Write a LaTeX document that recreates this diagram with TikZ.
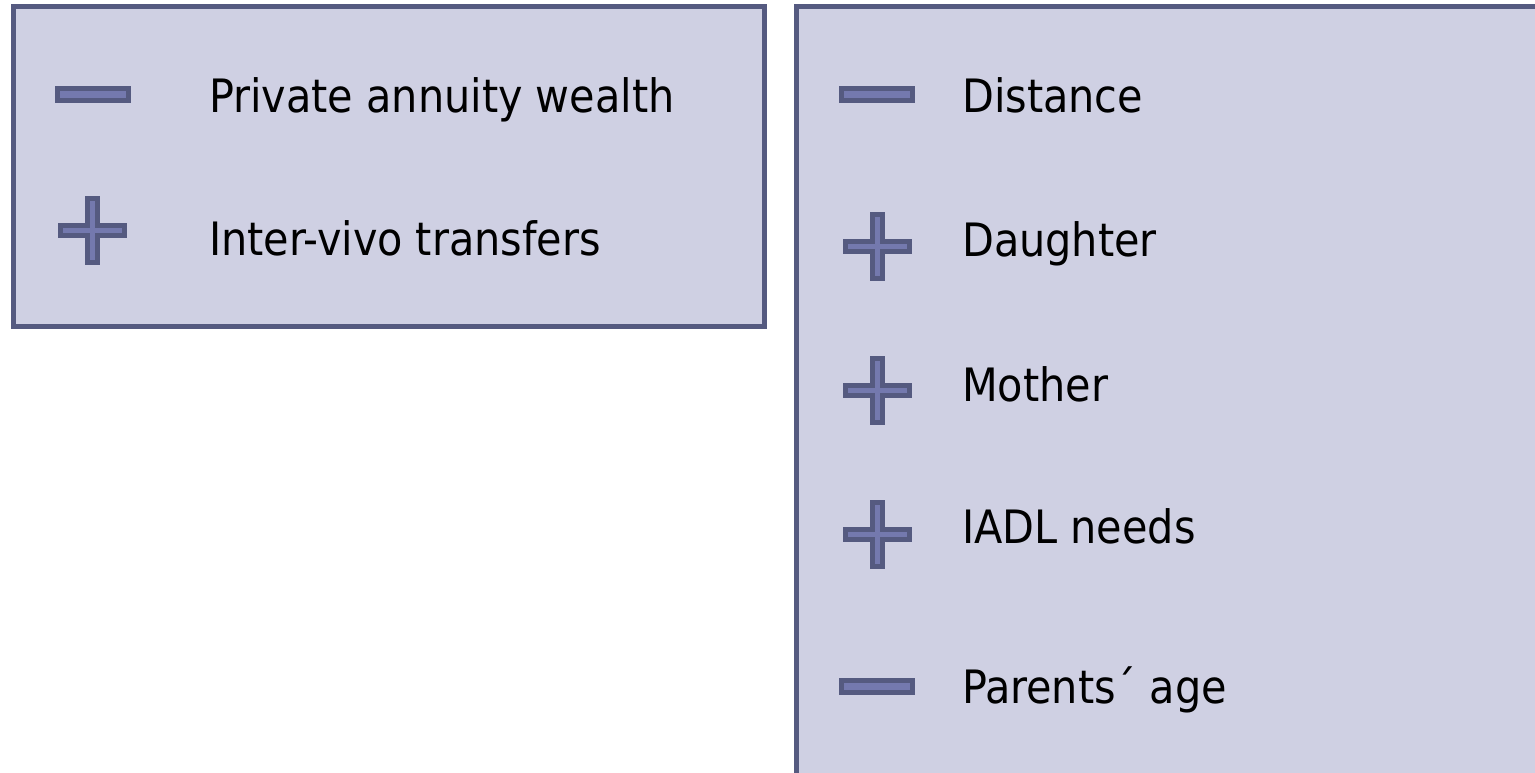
\documentclass[tikz,border=0pt]{standalone}
\usepackage{fontspec}
\setmainfont{DejaVu Sans Condensed}
\usetikzlibrary{positioning}
\definecolor{panelfill}{RGB}{207,208,227}
\definecolor{panelline}{RGB}{85,90,128}
\definecolor{signfill}{RGB}{116,121,174}

\tikzset{
  panel/.style={draw=panelline, fill=panelfill, line width=5pt},
  sign/.style={draw=panelline, fill=signfill, line width=5pt},
  item/.style={anchor=base west, inner sep=0pt, font=\fontsize{46}{52}\selectfont},
}
% minus and plus signs, centred on a coordinate
\newcommand{\signminus}[1]{\draw[sign, shift={(#1)}] (-35.5,-6) rectangle (35.5,6);}
\newcommand{\signplus}[1]{\draw[sign, shift={(#1)}] (-5,-32) -- (5,-32) -- (5,-5) -- (32,-5) -- (32,5) -- (5,5) -- (5,32) -- (-5,32) -- (-5,5) -- (-32,5) -- (-32,-5) -- (-5,-5) -- cycle;}

\begin{document}
\begin{tikzpicture}[x=1pt, y=-1pt]
    \clip (0,0) rectangle (1535,772);
    \fill[white] (0,0) rectangle (1535,772);

    % left panel: wealth
    \draw[panel] (13.5,6.5) rectangle (764.5,326.5);
    \coordinate (wm) at (93,94.5);
    \coordinate (tp) at (92.5,230.5);
    \signminus{wm}
    \signplus{tp}
    \node[item] (wealth) at (209,112) {Private annuity wealth};
    \node[item] (transfers) at (209,255) {Inter-vivo transfers};

    % right panel: family
    \draw[panel] (796.5,6.5) rectangle (1560,800);
    \coordinate (dm) at (877,94.5);
    \coordinate (gp) at (877,246.5);
    \coordinate (mp) at (877,390.5);
    \coordinate (ip) at (877,534.5);
    \coordinate (am) at (877,686);
    \signminus{dm}
    \signplus{gp}
    \signplus{mp}
    \signplus{ip}
    \signminus{am}
    \node[item] (distance) at (962,112) {Distance};
    \node[item] (daughter) at (962,256) {Daughter};
    \node[item] (mother) at (962,401) {Mother};
    \node[item] (iadl) at (962,543) {IADL needs};
    \node[item] (age) at (962,703) {Parents´ age};
\end{tikzpicture}
\end{document}
